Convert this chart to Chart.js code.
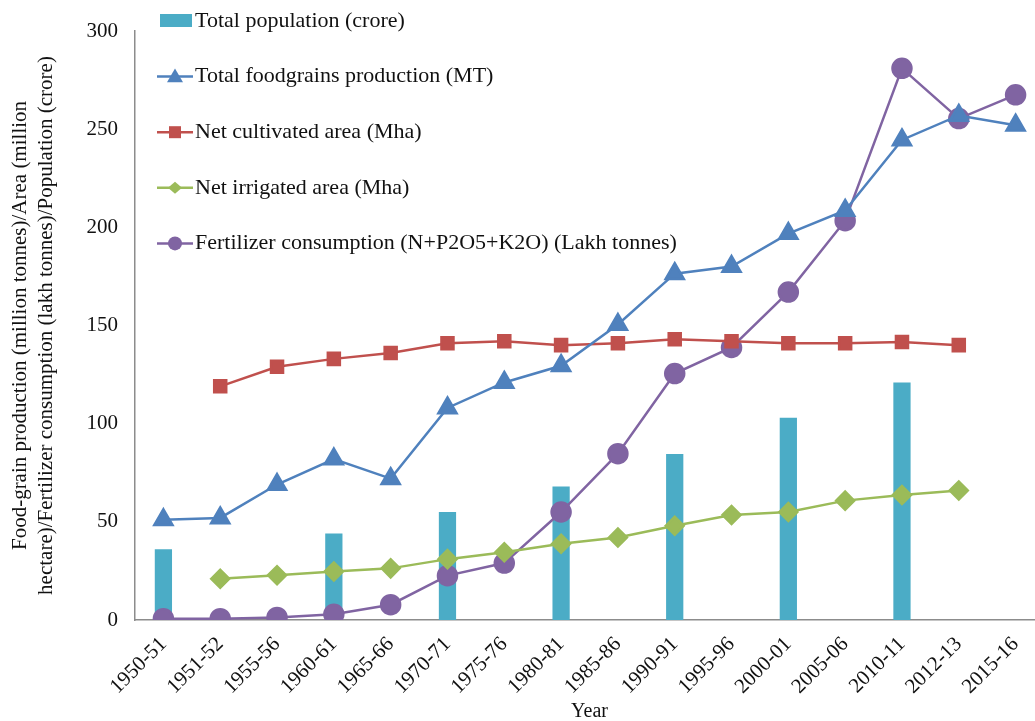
<!DOCTYPE html>
<html>
<head>
<meta charset="utf-8">
<script src="https://cdn.jsdelivr.net/npm/chart.js@4.4.0/dist/chart.umd.min.js"></script>
<style>
  html, body { margin: 0; padding: 0; background: #fff; overflow: hidden; }
  #wrap { position: relative; width: 1057px; height: 721px; }
</style>
</head>
<body>
<div id="wrap"><canvas id="chart"></canvas></div>
<script>
// Données du graphique
const years = ['1950-51', '1951-52', '1955-56', '1960-61', '1965-66', '1970-71', '1975-76', '1980-81',
    '1985-86', '1990-91', '1995-96', '2000-01', '2005-06', '2010-11', '2012-13', '2015-16'];

const population = [36, null, null, 44, null, 55, null, 68, null, 84.5, null, 103, null, 121, null, null];
const foodgrains = [51, 52, 69, 82, 72, 108, 121, 129.5, 150.5, 176.4, 180, 196.8, 208.6, 244.5, 257, 252];
const cultivatedArea = [null, 119, 129, 133, 136, 141, 142, 140, 141, 143, 142, 141, 141, 141.6, 140, null];
const irrigatedArea = [null, 21, 22.8, 24.7, 26.3, 31, 34.5, 38.8, 42, 48, 53.5, 55, 60.8, 63.7, 66, null];
const fertilizer = [0.7, 0.7, 1.3, 2.9, 7.8, 22.6, 29, 55, 84.7, 125.5, 138.8, 167, 203.4, 281, 255.4, 267.5];

const yTicks = [0, 50, 100, 150, 200, 250, 300];

const FONT = '"Liberation Serif", "Times New Roman", serif';
const COLORS = {
    bar: '#4BACC6',
    food: '#4F81BD',
    area: '#C0504D',
    irrig: '#9BBB59',
    fert: '#8064A2'
};

function lineSet(label, data, color, style, radius) {
    return {
        type: 'line',
        label: label,
        data: data,
        borderColor: color,
        backgroundColor: color,
        borderWidth: 2.5,
        pointStyle: style,
        pointRadius: radius,
        pointHoverRadius: radius,
        pointBackgroundColor: color,
        pointBorderColor: color,
        tension: 0,
        spanGaps: false
    };
}

// Légende dessinée à la main (verticale, en haut à gauche)
const legendPlugin = {
    id: 'manualLegend',
    afterDraw(chart) {
        const ctx = chart.ctx;
        ctx.save();
        ctx.font = '22px ' + FONT;
        ctx.textBaseline = 'middle';
        chart.data.datasets.forEach((ds, i) => {
            const y = 21 + i * 55.6;
            const color = ds.borderColor || ds.backgroundColor;
            if (ds.type === 'bar') {
                ctx.fillStyle = ds.backgroundColor;
                ctx.fillRect(160, y - 7, 32, 13);
            } else {
                ctx.strokeStyle = color;
                ctx.lineWidth = 2.5;
                ctx.beginPath();
                ctx.moveTo(157, y);
                ctx.lineTo(193, y);
                ctx.stroke();
                ctx.fillStyle = color;
                const cx = 175, r = 8;
                ctx.beginPath();
                if (ds.pointStyle === 'triangle') {
                    ctx.moveTo(cx, y - r);
                    ctx.lineTo(cx + r, y + r * 0.7);
                    ctx.lineTo(cx - r, y + r * 0.7);
                    ctx.closePath();
                } else if (ds.pointStyle === 'rect') {
                    ctx.rect(cx - 6, y - 6, 12, 12);
                } else if (ds.pointStyle === 'rectRot') {
                    ctx.moveTo(cx, y - 6);
                    ctx.lineTo(cx + 7, y);
                    ctx.lineTo(cx, y + 6);
                    ctx.lineTo(cx - 7, y);
                    ctx.closePath();
                } else {
                    ctx.arc(cx, y, 7, 0, Math.PI * 2);
                }
                ctx.fill();
            }
            ctx.fillStyle = '#111';
            ctx.textAlign = 'left';
            ctx.fillText(ds.label, 195, y);
        });
        ctx.restore();
    }
};

const ctx = document.getElementById('chart').getContext('2d');
const chart = new Chart(ctx, {
    type: 'bar',
    data: {
        labels: years,
        datasets: [
            {
                type: 'bar',
                label: 'Total population (crore)',
                data: population,
                backgroundColor: COLORS.bar,
                borderWidth: 0,
                barPercentage: 0.33,
                categoryPercentage: 0.92,
                order: 10
            },
            lineSet('Total foodgrains production (MT)', foodgrains, COLORS.food, 'triangle', 10.5),
            lineSet('Net cultivated area (Mha)', cultivatedArea, COLORS.area, 'rect', 8.5),
            lineSet('Net irrigated area (Mha)', irrigatedArea, COLORS.irrig, 'rectRot', 9),
            lineSet('Fertilizer consumption (N+P2O5+K2O) (Lakh tonnes)', fertilizer, COLORS.fert, 'circle', 9.5)
        ]
    },
    options: {
        responsive: true,
        maintainAspectRatio: false,
        animation: false,
        layout: {
            padding: { top: 31, left: 0, right: 0, bottom: 0 }
        },
        plugins: {
            legend: { display: false },
            tooltip: { enabled: false }
        },
        scales: {
            x: {
                offset: true,
                grid: { display: false, drawTicks: false },
                border: { display: true, color: '#8c8c8c', width: 1.5 },
                ticks: {
                    color: '#111',
                    font: { family: FONT, size: 21 },
                    minRotation: 45,
                    maxRotation: 45,
                    padding: 12,
                    autoSkip: false
                },
                title: {
                    display: true,
                    text: 'Year',
                    color: '#111',
                    font: { family: FONT, size: 20 },
                    padding: { top: 4, bottom: -3 }
                },
                afterFit(scale) { scale.height = 101; }
            },
            y: {
                min: 0,
                max: 300,
                afterBuildTicks(scale) {
                    scale.ticks = yTicks.map(v => ({ value: v }));
                },
                grid: { display: false, drawTicks: false },
                border: { display: true, color: '#8c8c8c', width: 1.5 },
                ticks: {
                    color: '#111',
                    font: { family: FONT, size: 21 },
                    padding: 17
                },
                title: {
                    display: true,
                    text: ['Food-grain production (million tonnes)/Area (million',
                           'hectare)/Fertilizer consumption (lakh tonnes)/Population (crore)'],
                    color: '#111',
                    font: { family: FONT, size: 21, lineHeight: 1.22 },
                    padding: { top: 8, bottom: 0 }
                },
                afterFit(scale) { scale.width = 135; }
            }
        }
    },
    plugins: [legendPlugin]
});
</script>
</body>
</html>
